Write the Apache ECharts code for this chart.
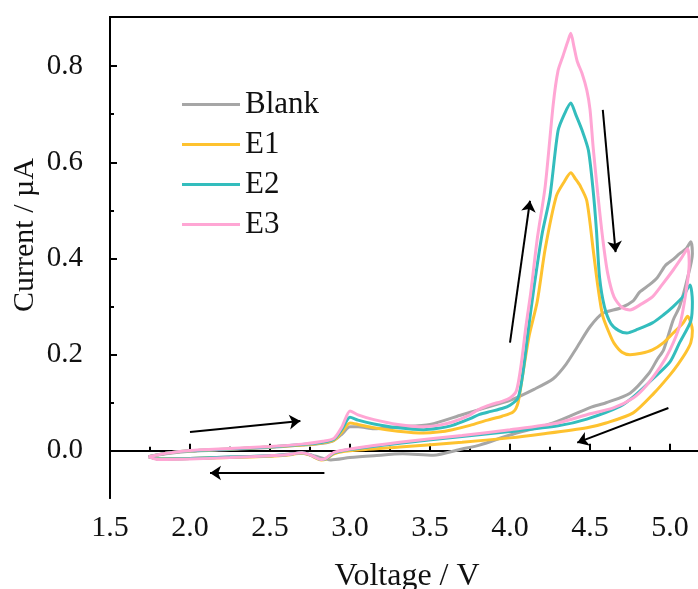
<!DOCTYPE html>
<html>
<head>
<meta charset="utf-8">
<script src="https://cdn.jsdelivr.net/npm/echarts@6/dist/echarts.min.js"></script>
<style>
html,body{margin:0;padding:0;background:#fff;}
#c{width:698px;height:589px;}
</style>
</head>
<body>
<div id="c"></div>
<script>
// ---------- data ----------
const seriesNames = ['Blank', 'E1', 'E2', 'E3'];

const blankV = [1.74,1.85,2.0,2.25,2.5,2.7,2.83,2.9,2.95,3.0,3.05,3.15,3.3,3.5,3.7,3.85,4.0,4.15,4.27,4.35,4.42,4.5,4.58,4.69,4.77,4.81,4.87,4.92,4.97,5.02,5.06,5.1,5.13,
  5.14,5.11,5.06,5.02,4.96,4.92,4.87,4.75,4.6,4.5,4.27,4.0,3.81,3.7,3.52,3.33,3.15,3.0,2.88,2.85,2.75,2.7,2.5,2.25,2.0,1.8,1.74];
const blankI = [-0.012,-0.006,-0.001,0.003,0.007,0.012,0.016,0.022,0.035,0.05,0.05,0.046,0.05,0.055,0.075,0.09,0.105,0.128,0.15,0.18,0.216,0.258,0.286,0.297,0.312,0.33,0.345,0.36,0.385,0.398,0.41,0.42,0.435,
  0.41,0.36,0.3,0.272,0.21,0.19,0.162,0.12,0.1,0.09,0.058,0.033,0.012,0.004,-0.009,-0.006,-0.01,-0.014,-0.019,-0.017,-0.008,-0.005,-0.01,-0.013,-0.016,-0.017,-0.012];

const e1V = [1.74,1.85,2.0,2.25,2.5,2.7,2.83,2.9,2.95,3.0,3.05,3.15,3.3,3.46,3.55,3.64,3.75,3.86,3.95,4.02,4.05,4.08,4.12,4.17,4.22,4.29,4.34,4.38,4.41,4.44,4.48,4.52,4.55,4.58,4.62,4.65,4.7,4.75,4.82,4.89,4.96,5.02,5.08,5.11,
  5.14,5.13,5.1,5.05,5.0,4.9,4.77,4.6,4.48,4.2,4.0,3.7,3.31,3.0,2.9,2.85,2.82,2.75,2.7,2.6,2.5,2.25,2.0,1.8,1.74];
const e1I = [-0.012,-0.005,0.0,0.004,0.008,0.012,0.017,0.022,0.04,0.058,0.055,0.048,0.041,0.037,0.039,0.044,0.053,0.064,0.072,0.081,0.1,0.16,0.24,0.31,0.42,0.53,0.56,0.578,0.565,0.55,0.52,0.418,0.34,0.28,0.245,0.224,0.205,0.2,0.203,0.21,0.225,0.245,0.265,0.28,
  0.25,0.225,0.205,0.18,0.158,0.12,0.079,0.058,0.048,0.035,0.027,0.018,0.008,0.0,-0.006,-0.017,-0.019,-0.009,-0.005,-0.009,-0.011,-0.014,-0.016,-0.017,-0.012];

const e2V = [1.74,1.85,2.0,2.25,2.5,2.7,2.83,2.9,2.95,3.0,3.05,3.15,3.3,3.46,3.55,3.64,3.75,3.81,3.88,3.95,4.0,4.05,4.08,4.11,4.15,4.2,4.25,4.3,4.34,4.38,4.41,4.45,4.49,4.52,4.54,4.56,4.59,4.63,4.68,4.73,4.8,4.89,4.96,5.02,5.08,5.125,
  5.14,5.13,5.06,5.0,4.9,4.78,4.69,4.48,4.3,4.0,3.7,3.31,3.0,2.9,2.85,2.82,2.75,2.7,2.6,2.5,2.25,2.0,1.8,1.74];
const e2I = [-0.012,-0.005,0.0,0.004,0.008,0.013,0.018,0.024,0.045,0.07,0.064,0.056,0.048,0.044,0.047,0.053,0.067,0.076,0.082,0.088,0.095,0.11,0.16,0.24,0.34,0.45,0.53,0.665,0.7,0.723,0.7,0.667,0.625,0.54,0.46,0.36,0.3,0.265,0.25,0.245,0.253,0.266,0.283,0.3,0.32,0.345,
  0.31,0.27,0.225,0.185,0.152,0.115,0.093,0.066,0.052,0.04,0.03,0.016,0.003,-0.004,-0.016,-0.018,-0.008,-0.004,-0.008,-0.01,-0.013,-0.016,-0.017,-0.012];

const e3V = [1.74,1.85,2.0,2.25,2.5,2.7,2.83,2.9,2.95,3.0,3.05,3.15,3.3,3.46,3.55,3.64,3.75,3.81,3.88,3.95,4.0,4.04,4.07,4.1,4.13,4.17,4.22,4.27,4.3,4.33,4.36,4.38,4.4,4.42,4.45,4.48,4.5,4.52,4.55,4.58,4.61,4.65,4.7,4.75,4.82,4.89,4.95,5.02,5.07,5.11,
  5.12,5.1,5.06,5.0,4.94,4.85,4.77,4.65,4.48,4.3,4.0,3.7,3.31,3.0,2.9,2.85,2.82,2.75,2.7,2.6,2.5,2.25,2.0,1.8,1.74];
const e3I = [-0.012,-0.005,0.001,0.005,0.009,0.014,0.02,0.026,0.05,0.083,0.075,0.065,0.055,0.05,0.053,0.06,0.075,0.087,0.096,0.103,0.11,0.125,0.18,0.26,0.33,0.44,0.55,0.72,0.79,0.82,0.85,0.868,0.84,0.81,0.785,0.75,0.71,0.63,0.53,0.44,0.37,0.32,0.298,0.293,0.305,0.32,0.345,0.376,0.4,0.42,
  0.39,0.33,0.26,0.21,0.175,0.135,0.11,0.09,0.075,0.058,0.044,0.032,0.018,0.004,-0.003,-0.015,-0.018,-0.008,-0.004,-0.008,-0.01,-0.014,-0.017,-0.018,-0.012];

// arrow annotations [x1, y1, x2, y2] in data units
const arrows = [
  [2.0, 0.039, 2.69, 0.062],
  [2.84, -0.046, 2.125, -0.046],
  [4.0, 0.225, 4.125, 0.52],
  [4.58, 0.709, 4.66, 0.413],
  [4.99, 0.089, 4.42, 0.017]
];

const xMajor = [1.5, 2.0, 2.5, 3.0, 3.5, 4.0, 4.5, 5.0];
const xMinor = [1.75, 2.25, 2.75, 3.25, 3.75, 4.25, 4.75];
const yMajor = [0.0, 0.2, 0.4, 0.6, 0.8];
const yMinor = [-0.1, 0.1, 0.3, 0.5, 0.7];

// ---------- chart ----------
const colors = ['#a6a6a6', '#fec22f', '#33bdbd', '#ffa6d4'];
const serif = '"Liberation Serif", "DejaVu Serif", serif';
const zip = (a, b) => a.map((v, i) => [v, b[i]]);
const seriesData = [zip(blankV, blankI), zip(e1V, e1I), zip(e2V, e2I), zip(e3V, e3I)];

const X_MIN = 1.5, X_MAX = 5.175, Y_MIN = -0.098, Y_MAX = 0.902;
const axisLine = { show: true, lineStyle: { color: '#000', width: 2 } };

const chart = echarts.init(document.getElementById('c'), null, { renderer: 'canvas' });
chart.setOption({
  animation: false,
  backgroundColor: '#fff',
  grid: { left: 110, top: 17, right: 0, bottom: 91, containLabel: false },
  legend: {
    data: seriesNames,
    orient: 'vertical',
    left: 177,
    top: 84,
    icon: 'rect',
    itemWidth: 58,
    itemHeight: 3,
    itemGap: 9,
    textStyle: { fontFamily: serif, fontSize: 31, color: '#111', lineHeight: 31 }
  },
  xAxis: [
    { type: 'value', min: X_MIN, max: X_MAX, position: 'bottom', axisLine,
      splitLine: { show: false },
      axisTick: { show: true, inside: true, length: 7, customValues: xMajor, lineStyle: { color: '#000', width: 2 } },
      axisLabel: { show: true, customValues: xMajor, formatter: v => v.toFixed(1), fontFamily: serif, fontSize: 30, color: '#111', margin: 15 } },
    { type: 'value', min: X_MIN, max: X_MAX, position: 'bottom', offset: 0, axisLine,
      splitLine: { show: false },
      axisTick: { show: true, inside: true, length: 4, customValues: xMinor, lineStyle: { color: '#000', width: 2 } },
      axisLabel: { show: false } },
    { type: 'value', min: X_MIN, max: X_MAX, position: 'top', axisLine,
      splitLine: { show: false }, axisTick: { show: false }, axisLabel: { show: false } }
  ],
  yAxis: [
    { type: 'value', min: Y_MIN, max: Y_MAX, position: 'left', axisLine,
      splitLine: { show: false },
      axisTick: { show: true, inside: true, length: 7, customValues: yMajor, lineStyle: { color: '#000', width: 2 } },
      axisLabel: { show: true, customValues: yMajor, formatter: v => v.toFixed(1), fontFamily: serif, fontSize: 29, color: '#111', margin: 27 } },
    { type: 'value', min: Y_MIN, max: Y_MAX, position: 'left', offset: 0, axisLine,
      splitLine: { show: false },
      axisTick: { show: true, inside: true, length: 4, customValues: yMinor, lineStyle: { color: '#000', width: 2 } },
      axisLabel: { show: false } }
  ],
  graphic: [
    { type: 'text', x: 25, y: 235, rotation: Math.PI / 2,
      style: { text: 'Current / µA', fontFamily: serif, fontSize: 30, fill: '#111', textAlign: 'center', textVerticalAlign: 'middle' } },
    { type: 'text', x: 407, y: 561,
      style: { text: 'Voltage / V', fontFamily: serif, fontSize: 32, fill: '#111', textAlign: 'center', textVerticalAlign: 'top' } }
  ],
  series: seriesNames.map((name, i) => ({
    name, type: 'line', data: seriesData[i], xAxisIndex: 0, yAxisIndex: 0,
    symbol: 'none', smooth: 0.25, z: 2 + i,
    lineStyle: { color: colors[i], width: 3 }, itemStyle: { color: colors[i] }
  })).concat([{
    name: 'arrows', type: 'lines', coordinateSystem: 'cartesian2d', xAxisIndex: 0, yAxisIndex: 0,
    symbol: ['none', 'arrow'], symbolSize: 11, z: 10,
    lineStyle: { color: '#000', width: 2, opacity: 1 },
    data: arrows.map(a => ({ coords: [[a[0], a[1]], [a[2], a[3]]] }))
  }])
});
</script>
</body>
</html>
